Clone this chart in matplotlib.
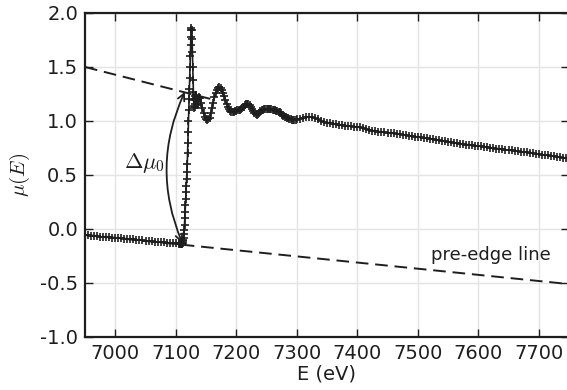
#!/usr/bin/env python3
"""Fe K-edge absorption spectrum with pre-edge / post-edge lines and edge step."""

import numpy as np
import matplotlib
matplotlib.use("Agg")
import matplotlib.pyplot as plt

# pre-edge region (eV, mu)
pre_E = [6950, 6955, 6960, 6965, 6970, 6975, 6980, 6985, 6990, 6995,
         7000, 7005, 7010, 7015, 7020, 7025, 7030, 7035, 7040, 7045,
         7050, 7055, 7060, 7065, 7070, 7075, 7080, 7085, 7090, 7095,
         7100, 7105]
pre_mu = [-0.056, -0.060, -0.063, -0.066, -0.069, -0.071, -0.073, -0.075, -0.077, -0.079,
          -0.081, -0.083, -0.085, -0.088, -0.091, -0.094, -0.097, -0.100, -0.103, -0.106,
          -0.109, -0.112, -0.115, -0.118, -0.120, -0.122, -0.124, -0.126, -0.128, -0.130,
          -0.132, -0.134]

# edge + white line
edge_E = [7106, 7107, 7108, 7109, 7110, 7110.5, 7111, 7111.5, 7112, 7112.5,
          7113, 7113.5, 7114, 7114.5, 7115, 7115.5, 7116, 7116.5, 7117, 7117.5,
          7118, 7118.5, 7119, 7119.5, 7120, 7120.5, 7121, 7121.5, 7122, 7122.5,
          7123, 7123.5, 7124, 7124.5, 7125, 7125.5, 7126, 7126.5, 7127, 7127.5,
          7128, 7128.5, 7129, 7129.5, 7130, 7130.5, 7131, 7131.5, 7132, 7132.5,
          7133, 7133.5, 7134, 7134.5, 7135, 7136, 7137, 7138, 7139]
edge_mu = [-0.136, -0.138, -0.139, -0.140, -0.140, -0.137, -0.132, -0.125, -0.115, -0.100,
           -0.080, -0.050, -0.010, 0.04, 0.10, 0.16, 0.22, 0.28, 0.34, 0.40,
           0.46, 0.53, 0.60, 0.70, 0.80, 0.90, 1.00, 1.10, 1.20, 1.30,
           1.40, 1.50, 1.60, 1.70, 1.78, 1.84, 1.86, 1.84, 1.76, 1.64,
           1.50, 1.38, 1.27, 1.19, 1.14, 1.12, 1.13, 1.16, 1.20, 1.23,
           1.24, 1.22, 1.19, 1.16, 1.15, 1.16, 1.19, 1.21, 1.22]

# near-edge oscillations
xanes_E = [7140, 7142, 7144, 7146, 7148, 7150, 7152, 7154, 7156, 7158,
           7160, 7162, 7164, 7166, 7168, 7170, 7172, 7174, 7176, 7178,
           7180, 7182, 7184, 7186, 7188, 7190, 7192, 7194, 7196, 7198,
           7200, 7202, 7204, 7206, 7208, 7210, 7212, 7214, 7216, 7218,
           7220, 7222, 7224, 7226, 7228, 7230, 7232, 7234, 7236, 7238,
           7240, 7242, 7244, 7246, 7248, 7250, 7252, 7254, 7256, 7258,
           7260, 7262, 7264, 7266, 7268, 7270, 7272, 7274, 7276, 7278,
           7280, 7282, 7284, 7286, 7288, 7290, 7292, 7294, 7296, 7298,
           7300]
xanes_mu = [1.21, 1.17, 1.12, 1.07, 1.04, 1.02, 1.01, 1.015, 1.03, 1.07,
            1.12, 1.17, 1.22, 1.26, 1.29, 1.31, 1.315, 1.31, 1.29, 1.26,
            1.23, 1.19, 1.16, 1.13, 1.11, 1.09, 1.08, 1.08, 1.085, 1.09,
            1.095, 1.10, 1.10, 1.10, 1.11, 1.12, 1.13, 1.145, 1.155, 1.16,
            1.16, 1.15, 1.13, 1.11, 1.09, 1.075, 1.065, 1.06, 1.065, 1.075,
            1.09, 1.10, 1.105, 1.11, 1.11, 1.11, 1.11, 1.11, 1.11, 1.11,
            1.105, 1.10, 1.10, 1.095, 1.09, 1.085, 1.08, 1.07, 1.06, 1.05,
            1.04, 1.035, 1.03, 1.025, 1.02, 1.015, 1.012, 1.01, 1.01, 1.012,
            1.015]

# extended region
exafs_E = [7305, 7310, 7315, 7320, 7325, 7330, 7335, 7340, 7345, 7350,
           7355, 7360, 7365, 7370, 7375, 7380, 7385, 7390, 7395, 7400,
           7405, 7410, 7415, 7420, 7425, 7430, 7435, 7440, 7445, 7450,
           7455, 7460, 7465, 7470, 7475, 7480, 7485, 7490, 7495, 7500,
           7505, 7510, 7515, 7520, 7525, 7530, 7535, 7540, 7545, 7550,
           7555, 7560, 7565, 7570, 7575, 7580, 7585, 7590, 7595, 7600,
           7605, 7610, 7615, 7620, 7625, 7630, 7635, 7640, 7645, 7650,
           7655, 7660, 7665, 7670, 7675, 7680, 7685, 7690, 7695, 7700,
           7705, 7710, 7715, 7720, 7725, 7730, 7735, 7740, 7745, 7750]
exafs_mu = [1.02, 1.03, 1.035, 1.04, 1.035, 1.025, 1.015, 1.00, 0.99, 0.985,
            0.98, 0.975, 0.97, 0.965, 0.96, 0.958, 0.955, 0.952, 0.948, 0.945,
            0.94, 0.935, 0.925, 0.918, 0.912, 0.906, 0.902, 0.898, 0.895, 0.892,
            0.889, 0.886, 0.883, 0.879, 0.875, 0.870, 0.865, 0.860, 0.856, 0.852,
            0.848, 0.844, 0.840, 0.836, 0.831, 0.826, 0.821, 0.816, 0.811, 0.806,
            0.802, 0.798, 0.794, 0.790, 0.786, 0.782, 0.778, 0.775, 0.772, 0.768,
            0.765, 0.761, 0.757, 0.753, 0.749, 0.745, 0.741, 0.737, 0.734, 0.731,
            0.727, 0.724, 0.721, 0.717, 0.713, 0.709, 0.705, 0.701, 0.697, 0.693,
            0.689, 0.685, 0.681, 0.677, 0.673, 0.669, 0.665, 0.661, 0.657, 0.653]

# fitted lines (endpoints)
pre_line_E = [6950, 7750]
pre_line_mu = [-0.054, -0.51]
post_line_E = [6950, 7157]
post_line_mu = [1.50, 1.205]

# edge step arrow ends
step_E = [7111, 7115]
step_mu = [-0.13, 1.27]

x_ticks = [7000, 7100, 7200, 7300, 7400, 7500, 7600, 7700]
y_ticks = [-1.0, -0.5, 0.0, 0.5, 1.0, 1.5, 2.0]

plt.rcParams["axes.unicode_minus"] = False
plt.rcParams["mathtext.fontset"] = "cm"

E = np.concatenate([pre_E, edge_E, xanes_E, exafs_E])
mu = np.concatenate([pre_mu, edge_mu, xanes_mu, exafs_mu])

ink = "#1e1e1e"
fig = plt.figure(figsize=(5.67, 3.9), dpi=100)
ax = fig.add_axes([85 / 567, 53 / 390, 484 / 567, 324 / 390])

ax.plot(E, mu, "-", color=ink, lw=1.2, marker="+", ms=6, mew=1.2, zorder=3)
ax.plot(pre_line_E, pre_line_mu, "--", color=ink, lw=1.4, dashes=(6.5, 3.5), zorder=2)
ax.plot(post_line_E, post_line_mu, "--", color=ink, lw=1.4, dashes=(6.5, 3.5), zorder=2)

ax.annotate("", xy=(step_E[1], step_mu[1]), xytext=(step_E[0], step_mu[0]),
            arrowprops=dict(arrowstyle="<->,head_length=0.5,head_width=0.25",
                            connectionstyle="arc3,rad=-0.22", color=ink, lw=1.3,
                            shrinkA=0, shrinkB=0), zorder=4)
ax.text(7049, 0.61, r"$\Delta\mu_0$", fontsize=16, color=ink, ha="center", va="center")
ax.text(7522, -0.24, "pre-edge line", fontsize=13, color=ink, ha="left", va="center")

ax.set_xlim(6950, 7750)
ax.set_ylim(-1.0, 2.0)
ax.set_xticks(x_ticks)
ax.set_yticks(y_ticks)
ax.set_yticklabels([f"{v:.1f}" for v in y_ticks])
ax.grid(True, color="#e4e4e4", lw=1.0, zorder=0)
ax.set_axisbelow(True)
ax.tick_params(direction="in", top=True, right=True, length=6, width=1.0,
               labelsize=14, colors=ink, pad=5)
for s in ax.spines.values():
    s.set_linewidth(1.6)
    s.set_color(ink)

ax.set_xlabel("E (eV)", fontsize=14, color=ink, labelpad=1)
ax.set_ylabel(r"$\mu(E)$", fontsize=15, color=ink, labelpad=6)

fig.savefig("out.png", dpi=100)
